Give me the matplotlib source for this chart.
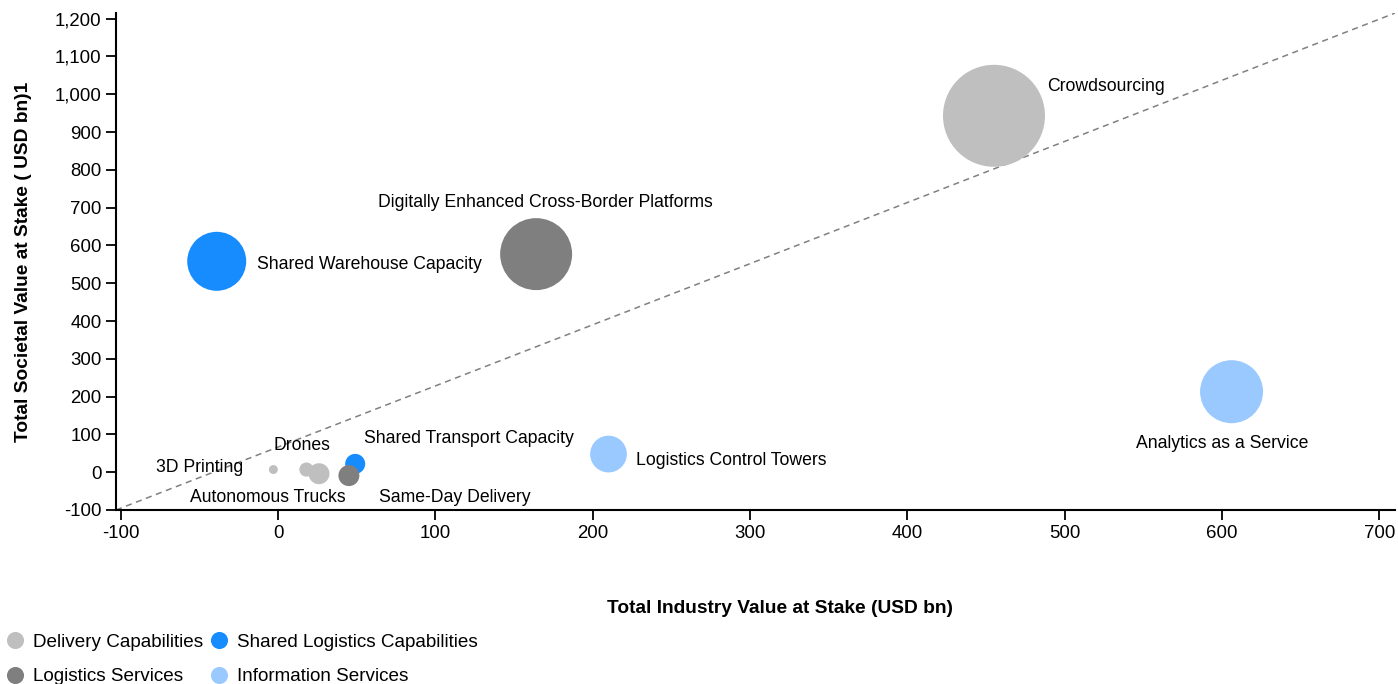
import matplotlib
matplotlib.use('Agg')
import matplotlib.pyplot as plt
from matplotlib.lines import Line2D
from matplotlib.ticker import FuncFormatter

plt.rcParams['font.family'] = ['Liberation Sans', 'DejaVu Sans']
plt.rcParams['axes.unicode_minus'] = False

# data
names = ['Crowdsourcing', 'Digitally Enhanced Cross-Border Platforms', 'Shared Warehouse Capacity',
         'Analytics as a Service', 'Logistics Control Towers', 'Shared Transport Capacity',
         'Same-Day Delivery', 'Autonomous Trucks', 'Drones', '3D Printing']
industry_value = [455, 164, -39, 606, 210, 49, 45, 26, 18, -3]
societal_value = [943, 577, 558, 213, 48, 22, -9, -4, 7, 7]
bubble_value = [1040, 518, 348, 397, 135, 40, 44, 44, 20, 8]
group = ['Delivery Capabilities', 'Logistics Services', 'Shared Logistics Capabilities',
         'Information Services', 'Information Services', 'Shared Logistics Capabilities',
         'Logistics Services', 'Delivery Capabilities', 'Delivery Capabilities', 'Delivery Capabilities']

groups = ['Delivery Capabilities', 'Shared Logistics Capabilities', 'Logistics Services', 'Information Services']
colors = {'Delivery Capabilities': '#bfbfbf', 'Shared Logistics Capabilities': '#168cff',
          'Logistics Services': '#7f7f7f', 'Information Services': '#99c9ff'}

# label placement (offset in points, alignment)
label_pos = {
    'Crowdsourcing': (38, 21, 'left'),
    'Digitally Enhanced Cross-Border Platforms': (6.5, 37, 'center'),
    'Shared Warehouse Capacity': (29, -2, 'left'),
    'Analytics as a Service': (-7, -37, 'center'),
    'Logistics Control Towers': (20, -5, 'left'),
    'Shared Transport Capacity': (6.5, 18, 'left'),
    'Same-Day Delivery': (22, -16, 'left'),
    'Autonomous Trucks': (-37, -17, 'center'),
    'Drones': (-3, 17, 'center'),
    '3D Printing': (-21.5, 1.5, 'right'),
}

fig = plt.figure(figsize=(13.98, 6.84), dpi=100)
ax = fig.add_axes([0.083, 0.2544, 0.915, 0.7266])

# diagonal reference line
ax.plot([0, 1], [0, 1], transform=ax.transAxes, ls=(0, (4, 3)), color='#808080', lw=1.1, zorder=1)

for g in groups:
    idx = [i for i in range(len(names)) if group[i] == g]
    ax.scatter([industry_value[i] for i in idx], [societal_value[i] for i in idx],
               s=[bubble_value[i] * 5.184 for i in idx], color=colors[g], linewidths=0, zorder=2)

for i, n in enumerate(names):
    dx, dy, ha = label_pos[n]
    ax.annotate(n, (industry_value[i], societal_value[i]), xytext=(dx, dy), textcoords='offset points',
                ha=ha, va='center', fontsize=12.7, color='black', zorder=3)

ax.set_xlim(-103, 710)
ax.set_ylim(-100, 1215)
ax.set_xticks(range(-100, 701, 100))
ax.set_yticks(range(-100, 1201, 100))
ax.yaxis.set_major_formatter(FuncFormatter(lambda v, _: f'{v:,.0f}'))
ax.spines['top'].set_visible(False)
ax.spines['right'].set_visible(False)
for s in ['left', 'bottom']:
    ax.spines[s].set_linewidth(1.5)
ax.tick_params(labelsize=13.4, length=7, width=1.3, pad=3.5, colors='black')

ax.set_xlabel('Total Industry Value at Stake (USD bn)', fontsize=13.8, fontweight='bold')
ax.set_ylabel('Total Societal Value at Stake ( USD bn)1', fontsize=13.8, fontweight='bold')
ax.xaxis.set_label_coords(0.519, -0.181)
ax.yaxis.set_label_coords(-0.066, 0.5)

# legend fills column by column, so order gives rows: Delivery/Shared, Logistics/Information
leg_order = ['Delivery Capabilities', 'Logistics Services', 'Shared Logistics Capabilities', 'Information Services']
handles = [Line2D([], [], marker='o', ls='', markersize=12.3, markerfacecolor=colors[g],
                  markeredgewidth=0) for g in leg_order]
fig.legend(handles, leg_order, loc='upper left', bbox_to_anchor=(0.004, 0.074), ncol=2,
           frameon=False, fontsize=13.6, handlelength=1.0, handletextpad=0.45,
           columnspacing=0.35, labelspacing=0.92, borderpad=0, borderaxespad=0)

fig.savefig('out.png', dpi=100)
